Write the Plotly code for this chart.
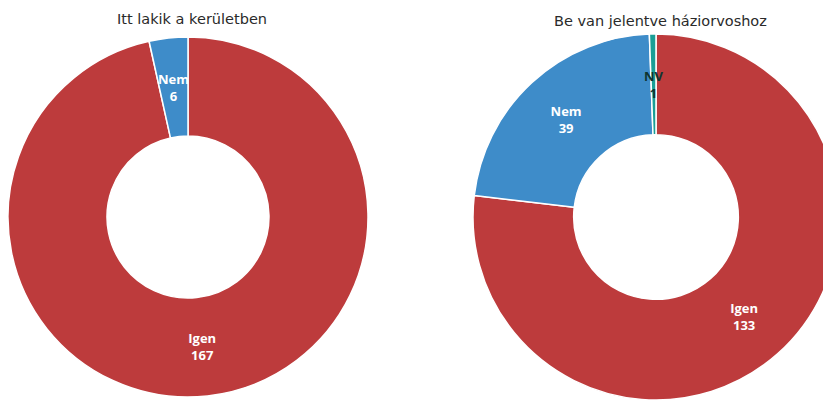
import math
import plotly.graph_objects as go

# Data
titles = ["Itt lakik a kerületben", "Be van jelentve háziorvoshoz"]
labels_left = ["Igen", "Nem"]
values_left = [167, 6]
labels_right = ["Igen", "Nem", "NV"]
values_right = [133, 39, 1]

RED = "#BD3B3C"
BLUE = "#3E8CC9"
TEAL = "#1A9E96"

# The page body has an 8px margin; the figure is laid out in its own pixels.
OFF = 8
W, H = 840, 394
HOLE = 0.45
FONT = "Open Sans"
TITLE_FONT = "DejaVu Sans"


def px_domain(cx, cy, r):
    """Donut geometry (screen px) -> pie domain in paper units."""
    x0, x1 = (cx - r - OFF) / W, (cx + r - OFF) / W
    y0, y1 = 1 - (cy + r - OFF) / H, 1 - (cy - r - OFF) / H
    return dict(x=[max(0, x0), min(1, x1)], y=[max(0, y0), min(1, y1)])


geom_left = (188, 217, 180)
geom_right = (656, 217, 183)


def label_annotations(labels, values, geom, show, colors):
    cx, cy, r = geom
    total = sum(values)
    rm = r * (1 + HOLE) / 2
    anns = []
    cum = 0
    for lab, val, s, c in zip(labels, values, show, colors):
        mid = (cum + val / 2) / total * 2 * math.pi
        cum += val
        if not s:
            continue
        x = cx + rm * math.sin(mid)
        y = cy - rm * math.cos(mid)
        anns.append(dict(
            text=f"<b>{lab}</b><br><b>{val}</b>",
            x=(x - OFF) / W, y=1 - (y - OFF) / H, xref="paper", yref="paper",
            showarrow=False, xanchor="center", yanchor="middle",
            font=dict(family=FONT, size=13, color=c)))
    return anns


fig = go.Figure()

common = dict(
    hole=HOLE,
    sort=False,
    direction="clockwise",
    rotation=0,
    insidetextorientation="horizontal",
    texttemplate="<b>%{label}</b><br><b>%{value}</b>",
    hoverinfo="label+value",
    showlegend=False,
    marker_line=dict(color="white", width=1.5),
)

# narrow slices get their labels at mid-radius via annotations
narrow_left = [v / sum(values_left) < 0.05 for v in values_left]
narrow_right = [v / sum(values_right) < 0.05 for v in values_right]

fig.add_trace(go.Pie(
    labels=labels_left, values=values_left,
    marker_colors=[RED, BLUE],
    textposition=["none" if n else "inside" for n in narrow_left],
    textfont=dict(family=FONT, size=13, color="white"),
    domain=px_domain(*geom_left),
    **common,
))

fig.add_trace(go.Pie(
    labels=labels_right, values=values_right,
    marker_colors=[RED, BLUE, TEAL],
    textposition=["none" if n else "inside" for n in narrow_right],
    textfont=dict(family=FONT, size=13, color="white"),
    domain=px_domain(*geom_right),
    **common,
))

annotations = [
    dict(text=titles[0], x=(192 - OFF) / W, y=1 - (19 - OFF) / H, xref="paper", yref="paper",
         showarrow=False, xanchor="center", yanchor="middle",
         font=dict(family=TITLE_FONT, size=14.5, color="#2a2a2a")),
    dict(text=titles[1], x=(660 - OFF) / W, y=1 - (21 - OFF) / H, xref="paper", yref="paper",
         showarrow=False, xanchor="center", yanchor="middle",
         font=dict(family=TITLE_FONT, size=14.5, color="#2a2a2a")),
]
annotations += label_annotations(labels_left, values_left, geom_left, narrow_left,
                                 ["white", "white"])
annotations += label_annotations(labels_right, values_right, geom_right, narrow_right,
                                 ["white", "white", "#0e3531"])

fig.update_layout(
    width=W, height=H,
    margin=dict(l=0, r=0, t=0, b=0),
    paper_bgcolor="white",
    plot_bgcolor="white",
    uniformtext=dict(minsize=13, mode="show"),
    annotations=annotations,
)

fig.write_html("out.html")
